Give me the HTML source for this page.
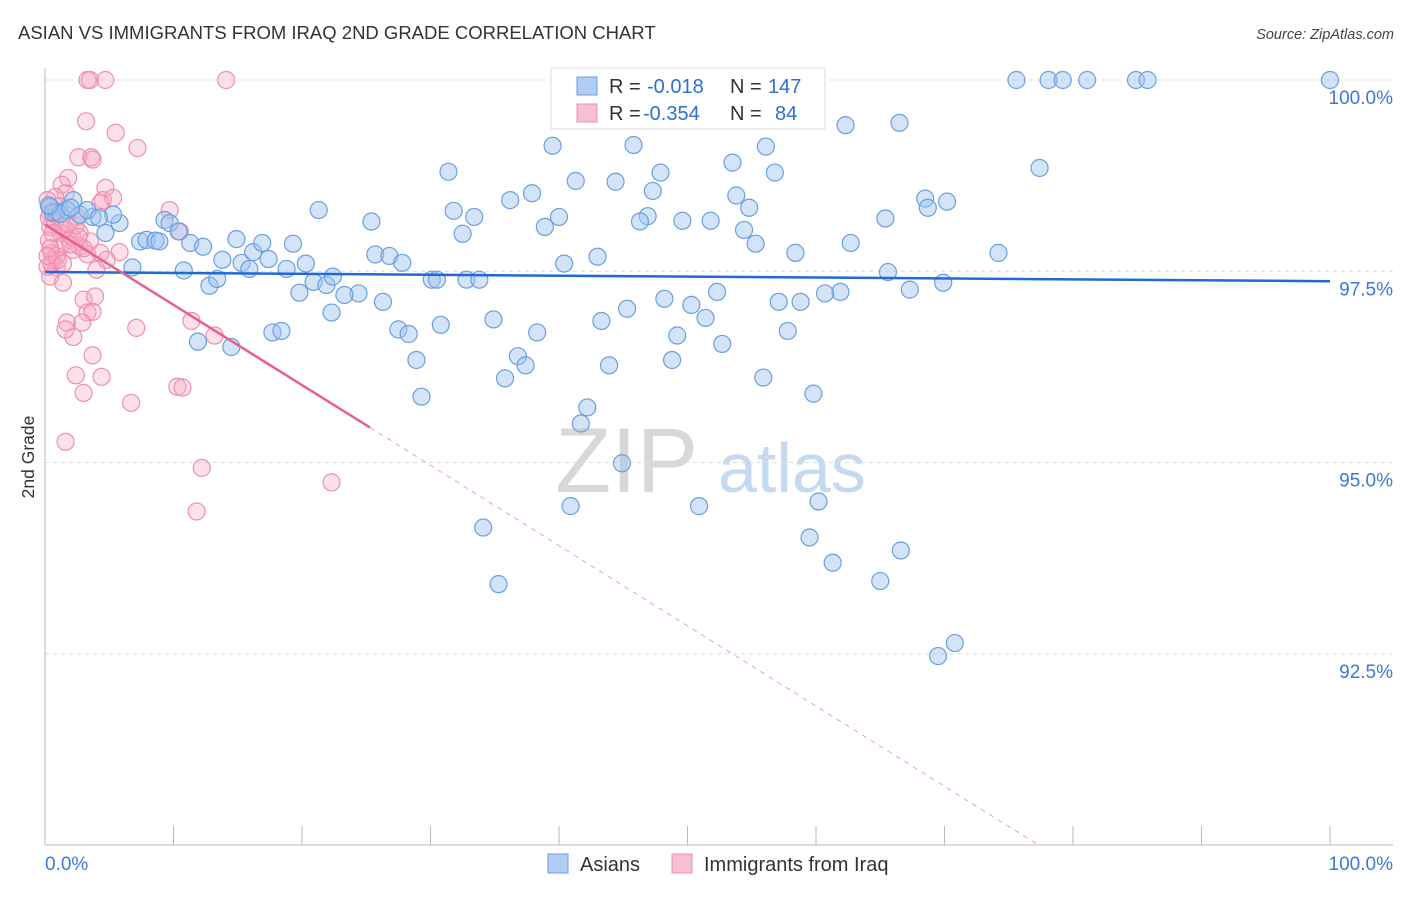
<!DOCTYPE html>
<html><head><meta charset="utf-8"><style>
body{margin:0;background:#fff;font-family:"Liberation Sans",sans-serif;}
svg text{font-family:"Liberation Sans",sans-serif;}
</style></head><body>
<svg id="chart" width="1406" height="892" xmlns="http://www.w3.org/2000/svg">
<text x="18" y="39" font-size="18.5" fill="#333">ASIAN VS IMMIGRANTS FROM IRAQ 2ND GRADE CORRELATION CHART</text>
<text x="1394" y="39" font-size="14.5" font-style="italic" fill="#444" text-anchor="end">Source: ZipAtlas.com</text>
<g>
<text x="555" y="492" font-size="92" font-family="Liberation Serif,serif" fill="#d8d8d8">ZIP</text>
<text x="718" y="492" font-size="70" fill="#c5d9f0">atlas</text>
</g>
<g id="grid"></g>
<g id="axes"></g>
<g id="pinkPts"></g>
<g id="bluePts"></g>
<g id="lines"></g>
<text transform="translate(34,457) rotate(-90)" font-size="17.5" fill="#333" text-anchor="middle">2nd Grade</text>
<g>
<rect x="551" y="68" width="274" height="61" fill="#fff" stroke="#ddd"/>
<rect x="577" y="77" width="20" height="18" fill="#b3cdf2" stroke="#6a9fe0"/>
<text x="609" y="93" font-size="20" fill="#333">R =</text><text x="647" y="93" font-size="20" fill="#2f6fd0">-0.018</text>
<text x="730" y="93" font-size="20" fill="#333">N =</text><text x="768" y="93" font-size="20" fill="#2f6fd0">147</text>
<rect x="577" y="104" width="20" height="18" fill="#f7c0d2" stroke="#ee8fb0"/>
<text x="609" y="120" font-size="20" fill="#333">R =</text><text x="643" y="120" font-size="20" fill="#2f6fd0">-0.354</text>
<text x="730" y="120" font-size="20" fill="#333">N =</text><text x="775" y="120" font-size="20" fill="#2f6fd0">84</text>
</g>
<g>
<rect x="548" y="854" width="20" height="19" fill="#b3cdf2" stroke="#6a9fe0"/>
<text x="580" y="871" font-size="20" fill="#333">Asians</text>
<rect x="672" y="854" width="20" height="19" fill="#f7c0d2" stroke="#ee8fb0"/>
<text x="704" y="871" font-size="20" fill="#333">Immigrants from Iraq</text>
</g>
</svg>
<script>
const yTicks=[100,97.5,95,92.5];
const yTickLabels=["100.0%","97.5%","95.0%","92.5%"];
const xTickLabels=["0.0%","100.0%"];
const blueX=[75.6,78.1,79.2,81.1,84.9,85.8,100,62.3,66.5,39.5,45.8,56.1,53.5,77.4,31.4,47.9,56.8,41.3,44.4,37.9,36.2,47.3,53.8,68.5,70.2,68.7,54.8,21.3,31.8,33.4,40.0,46.9,49.6,51.8,46.3,65.4,38.9,25.4,32.5,54.4,62.7,55.3,74.2,58.4,25.7,26.8,27.8,43.0,40.4,65.6,30.1,30.5,32.8,33.8,69.9,67.3,61.9,60.7,58.8,57.1,52.3,48.2,50.3,51.4,45.3,43.3,57.8,49.2,52.7,38.3,34.9,30.8,27.5,28.3,26.3,24.4,22.3,19.8,23.3,28.9,36.8,37.4,35.8,43.9,48.8,55.9,59.8,29.3,42.2,41.7,44.9,40.9,50.9,60.2,59.5,34.1,35.3,61.3,65.0,66.6,69.5,70.8,9.3,9.7,10.4,11.3,12.3,13.8,14.9,15.3,15.9,16.2,16.9,17.4,18.8,19.3,20.3,20.9,21.9,22.4,11.9,14.5,17.7,18.4,10.8,6.8,12.8,13.4,5.8,5.3,3.7,2.7,7.4,7.9,8.6,8.9,4.7,2.2,0.9,1.7,0.4,3.3,0.6,1.2,4.2,2.0,0.3];
const blueY=[100,100,100,100,100,100,100,99.41,99.44,99.14,99.15,99.13,98.92,98.85,98.80,98.79,98.79,98.68,98.67,98.52,98.43,98.55,98.49,98.45,98.41,98.33,98.33,98.30,98.29,98.21,98.21,98.22,98.16,98.16,98.15,98.19,98.08,98.15,97.99,98.04,97.87,97.86,97.74,97.74,97.72,97.70,97.61,97.69,97.60,97.49,97.39,97.39,97.39,97.39,97.35,97.26,97.23,97.21,97.10,97.10,97.23,97.14,97.06,96.89,97.01,96.85,96.72,96.66,96.55,96.70,96.87,96.80,96.74,96.68,97.10,97.21,96.96,97.22,97.19,96.34,96.39,96.27,96.10,96.27,96.34,96.11,95.90,95.86,95.72,95.51,94.99,94.43,94.43,94.49,94.02,94.15,93.41,93.69,93.45,93.85,92.47,92.64,98.17,98.13,98.02,97.87,97.82,97.65,97.92,97.61,97.53,97.75,97.87,97.66,97.53,97.86,97.60,97.36,97.32,97.43,96.58,96.51,96.70,96.72,97.51,97.55,97.31,97.40,98.13,98.24,98.21,98.24,97.89,97.91,97.90,97.89,98.00,98.43,98.28,98.30,98.34,98.30,98.27,98.25,98.20,98.33,98.36];
const pinkX=[3.3,3.5,4.7,14.1,3.2,5.5,7.2,2.6,3.6,3.7,1.8,1.3,1.6,0.8,4.7,4.5,5.3,4.3,9.7,10.5,0.4,1.2,1.9,2.7,3.5,2.2,3.3,4.3,0.6,0.9,0.4,1.4,4.0,5.8,3.0,3.9,3.3,3.7,1.7,2.2,1.6,2.9,7.1,11.4,13.2,3.7,2.4,4.4,3.0,10.3,10.7,6.7,1.6,12.2,22.3,11.8,0.2,0.4,2.5,2.7,1.2,0.5,0.2,4.8,1.3,0.3,0.8,1.5,2.1,0.9,0.5,2.0,3.0,1.1,0.7,0.3,1.0,2.4,1.8,0.6,0.4,1.4,2.6,0.2];
const pinkY=[100,100,100,100,99.46,99.31,99.11,98.99,98.99,98.96,98.72,98.63,98.52,98.47,98.59,98.43,98.46,98.39,98.30,98.02,98.08,98.00,97.91,97.82,97.89,97.78,97.72,97.74,97.65,97.55,97.43,97.35,97.52,97.75,97.13,97.17,96.96,96.97,96.83,96.64,96.74,96.83,96.76,96.85,96.66,96.40,96.14,96.12,95.91,95.99,95.98,95.78,95.27,94.93,94.74,94.36,98.43,98.26,98.21,98.00,97.82,97.74,97.56,97.65,98.08,98.20,98.15,98.05,97.95,97.70,97.60,97.85,97.80,98.35,98.25,97.90,97.65,98.10,98.12,98.00,97.80,97.60,97.95,97.70];
const blueFit=[97.49,-0.0012];
const pinkFit=[98.11,-0.1049];
const pinkSolidEnd=25.3;
const NS="http://www.w3.org/2000/svg";
const X0=45,X1=1330,YT=80,YB=845;
function sx(v){return X0+(X1-X0)*v/100;}
function sy(v){return YT+(100-v)*(YB-YT)/10;}
function mk(tag,attrs,parent){const e=document.createElementNS(NS,tag);for(const k in attrs)e.setAttribute(k,attrs[k]);parent.appendChild(e);return e;}
const grid=document.getElementById('grid'),axes=document.getElementById('axes');
yTicks.forEach((t,i)=>{
 const g=mk('line',{x1:X0,x2:1393,y1:sy(t),y2:sy(t),stroke:'#dcdcdc','stroke-dasharray':'4,4'},grid);
 
 
 const l=mk('text',{x:1393,y:sy(t)+24,'font-size':19,fill:'#3d78d8','text-anchor':'end'},axes);
 l.textContent=yTickLabels[i];
 
 
});
const ya=mk('line',{x1:X0,x2:X0,y1:68,y2:YB,stroke:'#bbb'},axes);


const xa=mk('line',{x1:X0,x2:1393,y1:YB,y2:YB,stroke:'#bbb'},axes);


for(let i=0;i<=10;i++){const t=mk('line',{x1:sx(i*10),x2:sx(i*10),y1:826,y2:YB,stroke:'#bbb'},axes);
 
 }
[[0,'start',45],[100,'end',1393]].forEach((d,i)=>{const l=mk('text',{x:d[2],y:870,'font-size':19,fill:'#3d78d8','text-anchor':d[1]},axes);l.textContent=xTickLabels[i];
 
 });
const pg=document.getElementById('pinkPts');
pinkX.forEach((x,i)=>{const c=mk('circle',{cx:sx(x),cy:sy(pinkY[i]),r:8.5,fill:'rgba(247,170,195,0.35)',stroke:'#ee8fb0','stroke-width':1.2},pg);
 
 });
const bg=document.getElementById('bluePts');
blueX.forEach((x,i)=>{const c=mk('circle',{cx:sx(x),cy:sy(blueY[i]),r:8.5,fill:'rgba(160,195,240,0.45)',stroke:'#6a9fe0','stroke-width':1.2},bg);
 
 });
const lg=document.getElementById('lines');
const bl=mk('line',{x1:sx(0),y1:sy(blueFit[0]),x2:sx(100),y2:sy(blueFit[0]+blueFit[1]*100),stroke:'#1f6ad6','stroke-width':2.5},lg);


const pe=(pinkFit[0]-90)/-pinkFit[1];
const pl=mk('line',{x1:sx(0),y1:sy(pinkFit[0]),x2:sx(pinkSolidEnd),y2:sy(pinkFit[0]+pinkFit[1]*pinkSolidEnd),stroke:'#e8608f','stroke-width':2.5},lg);


const pd=mk('line',{x1:sx(pinkSolidEnd),y1:sy(pinkFit[0]+pinkFit[1]*pinkSolidEnd),x2:sx(pe),y2:sy(90),stroke:'#f0a0bb','stroke-width':1,'stroke-dasharray':'5,5'},lg);


</script>
</body></html>
